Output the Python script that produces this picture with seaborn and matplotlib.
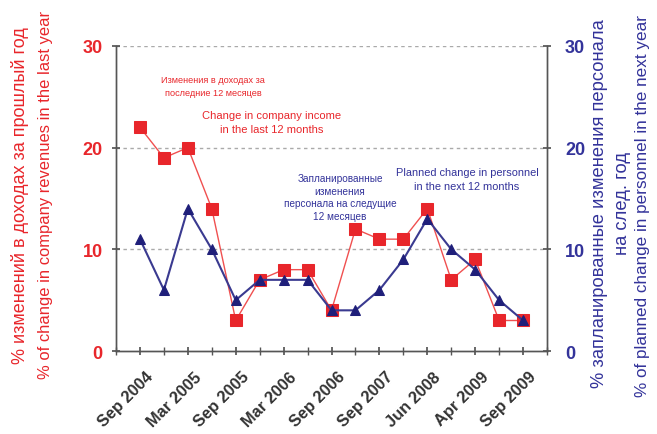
import matplotlib
matplotlib.use("Agg")
import matplotlib.pyplot as plt
import matplotlib.transforms as mtransforms
import seaborn as sns
import pandas as pd
import numpy as np

# ---- data ----
tick_labels = ["Sep 2004", "Mar 2005", "Sep 2005", "Mar 2006", "Sep 2006",
               "Sep 2007", "Jun 2008", "Apr 2009", "Sep 2009"]
revenue_change = [22, 19, 20, 14, 3, 7, 8, 8, 4, 12, 11, 11, 14, 7, 9, 3, 3]
personnel_change = [11, 6, 14, 10, 5, 7, 7, 7, 4, 4, 6, 9, 13, 10, 8, 5, 3]
y_ticks = [0, 10, 20, 30]

sns.set_theme(style="white")
plt.rcParams['font.family'] = ['Liberation Sans', 'DejaVu Sans']

RED = "#e8262b"
RED_LINE = "#f05050"
NAVY = "#1f1f7a"
NAVY_LINE = "#3a3a90"
NAVY_TXT = "#33339a"

n = len(revenue_change)
df = pd.DataFrame({"idx": np.arange(n),
                   "rev": revenue_change,
                   "pers": personnel_change})

fig = plt.figure(figsize=(6.57, 4.35), dpi=100)
ax = fig.add_axes([0.1766, 0.1908, 0.656, 0.7012])
ax2 = ax.twinx()

sns.lineplot(data=df, x="idx", y="rev", ax=ax, color=RED_LINE, lw=1.0,
             marker="s", markersize=9, markerfacecolor=RED,
             markeredgecolor=RED, zorder=3)
sns.lineplot(data=df, x="idx", y="pers", ax=ax2, color=NAVY_LINE, lw=1.5,
             marker="^", markersize=7, markerfacecolor=NAVY,
             markeredgecolor=NAVY, zorder=4)

for a in (ax, ax2):
    a.set_xlim(-1, n)
    a.set_ylim(0, 30)
    a.set_yticks(y_ticks)
    a.set_xlabel("")
    a.set_ylabel("")
    a.spines['top'].set_visible(False)
    for s in ('left', 'right', 'bottom'):
        a.spines[s].set_color("#555555")
        a.spines[s].set_linewidth(1.0)

ax.set_zorder(1)
ax2.set_zorder(2)
ax2.patch.set_visible(False)

for yv in y_ticks[1:]:
    ax.axhline(yv, color="#aaaaaa", lw=1.0, ls=(0, (2.5, 2.5)), zorder=0)

ax.set_xticks(np.arange(0, n, 2))
ax.set_xticklabels(tick_labels, rotation=45, ha="right", va="center",
                   rotation_mode="anchor",
                   fontsize=11.8, fontweight="bold", color="#333333")
ax.set_xticks(np.arange(-1, n + 1), minor=True)
ax.tick_params(axis="x", which="both", direction="inout", length=6,
               color="#555555", bottom=True)
ax.tick_params(axis="x", which="major", pad=0)
offset = mtransforms.ScaledTranslation(11 / 100, -19 / 100, fig.dpi_scale_trans)
for lbl in ax.get_xticklabels():
    lbl.set_transform(lbl.get_transform() + offset)

ax.tick_params(axis="y", direction="inout", length=6, color="#555555", left=True, pad=6.5)
ax2.tick_params(axis="y", direction="inout", length=6, color="#555555", right=True, pad=10)
ax.set_yticklabels([str(v) for v in y_ticks], fontsize=13, fontweight="bold", color=RED)
ax2.set_yticklabels([str(v) for v in y_ticks], fontsize=13, fontweight="bold", color=NAVY_TXT)

# axis titles
fig.text(20 / 657, 0.55, "% изменений в доходах за прошлый год", rotation=90,
         ha="center", va="center", fontsize=13, color=RED)
fig.text(46 / 657, 0.552, "% of change in company revenues in the last year", rotation=90,
         ha="center", va="center", fontsize=11.9, color=RED)
fig.text(611 / 657, 0.533, "% запланированные изменения персонала\nна след. год",
         rotation=90, ha="center", va="center", fontsize=13.2, color=NAVY_TXT,
         linespacing=1.4, multialignment="center")
fig.text(643 / 657, 0.526, "% of planned change in personnel in the next year", rotation=90,
         ha="center", va="center", fontsize=12.3, color=NAVY_TXT)

# annotations (figure coords)
def ftext(x, y, s, color, size, ls=1.55):
    fig.text(x / 657, 1 - y / 435, s, ha="center", va="center",
             fontsize=size, color=color, linespacing=ls)

ftext(213, 87, "Изменения в доходах за\nпоследние 12 месяцев", RED, 6.6)
ftext(272, 123, "Change in company income\nin the last 12 months", RED, 8, 1.4)
ftext(340, 198, "Запланированные\nизменения\nперсонала на следущие\n12 месяцев", NAVY_TXT, 7.2, 1.3)
ftext(467, 180, "Planned change in personnel\nin the next 12 months", NAVY_TXT, 7.9, 1.4)

fig.savefig("out.png", dpi=100, facecolor="white")
